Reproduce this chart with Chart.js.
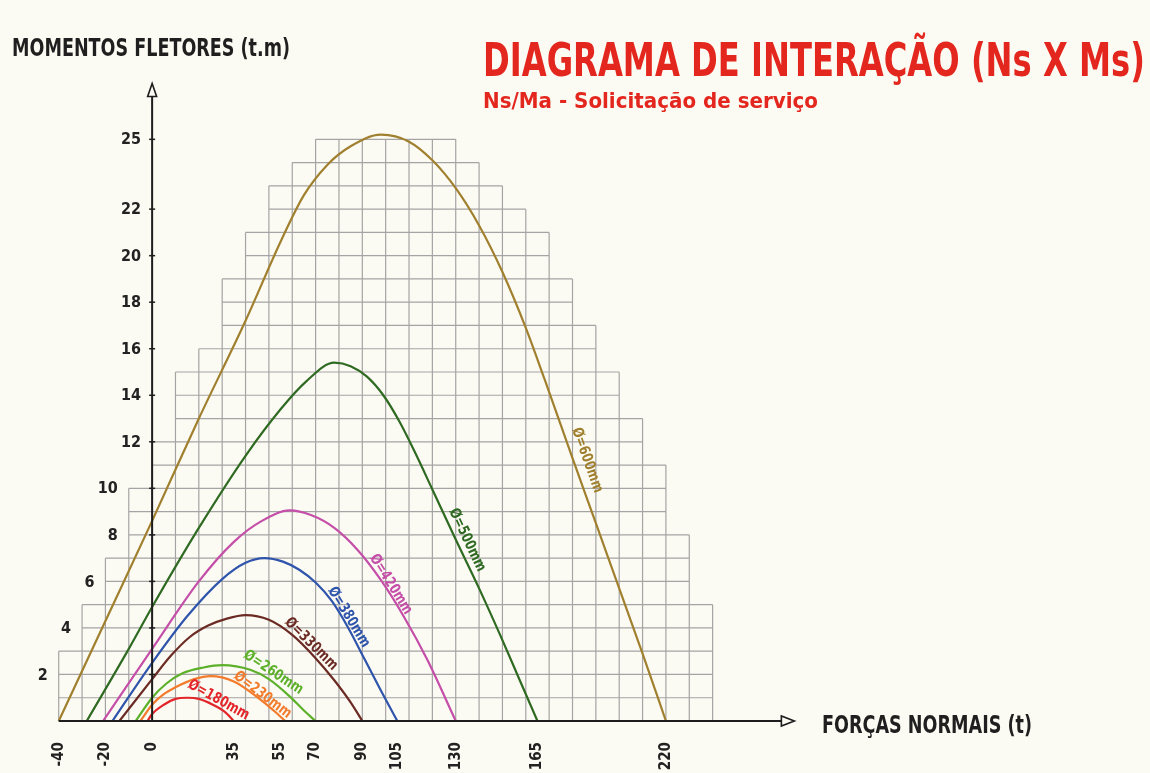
<!DOCTYPE html>
<html>
<head>
<meta charset="utf-8">
<script src="https://cdn.jsdelivr.net/npm/chart.js@4.4.1/dist/chart.umd.min.js"></script>
<style>
  html, body { margin: 0; padding: 0; background: #fcfbf3; }
</style>
</head>
<body>
<canvas id="chart" width="1150" height="773"></canvas>
<script>
const FONT = "'Liberation Sans Narrow', 'DejaVu Sans Condensed', 'Arial Narrow', sans-serif";

// curves: normal force (t) -> bending moment (t.m), one pair of arrays per pile diameter
const names = ["Ø=600mm", "Ø=500mm", "Ø=420mm", "Ø=380mm", "Ø=330mm", "Ø=260mm", "Ø=230mm", "Ø=180mm"];
const colors = ["#a0802f", "#2f6a22", "#c44ea8", "#2e54ab", "#6b2b24", "#5cb02a", "#f27b2c", "#e4262b"];

const x600 = [-40, -20, 0, 20, 40, 55, 65, 75, 85, 98, 110, 120, 130, 140, 150, 160, 168, 180, 190, 200, 210, 220];
const y600 = [0, 4.3, 8.6, 13.0, 17.2, 20.6, 22.6, 23.9, 24.7, 25.2, 24.9, 24.1, 22.9, 21.3, 19.3, 16.9, 14.7, 11.3, 8.5, 5.7, 2.9, 0];

const x500 = [-28, -10, 0, 20, 40, 55, 66, 78, 85, 92, 99, 106, 113, 120, 130, 140, 149, 157, 165];
const y500 = [0, 3.1, 4.9, 8.3, 11.4, 13.4, 14.6, 15.4, 15.25, 14.8, 14.0, 12.85, 11.45, 9.95, 7.8, 5.7, 3.7, 1.85, 0];

const x420 = [-21, 0, 20, 35, 47, 59, 68, 78, 88, 98, 108, 118, 130];
const y420 = [0, 3.1, 6.0, 7.7, 8.6, 9.05, 8.85, 8.3, 7.35, 6.05, 4.45, 2.6, 0];

const x380 = [-17, 0, 15, 30, 40, 48, 56, 63, 70, 77, 84, 91, 98, 105];
const y380 = [0, 2.5, 4.5, 6.1, 6.8, 7.0, 6.85, 6.5, 5.95, 5.15, 4.0, 2.65, 1.3, 0];

const x330 = [-14, 0, 8, 16, 24, 32, 40, 50, 60, 70, 78, 85, 90];
const y330 = [0, 1.8, 2.8, 3.6, 4.1, 4.4, 4.55, 4.35, 3.7, 2.7, 1.75, 0.8, 0];

const x260 = [-7, 0, 6, 13, 22, 30, 42, 50, 59, 65, 70];
const y260 = [0, 1.0, 1.6, 2.05, 2.3, 2.4, 2.2, 1.8, 1.05, 0.45, 0];

const x230 = [-5, 0, 5, 10, 18, 25, 35, 46, 52, 57];
const y230 = [0, 0.7, 1.15, 1.45, 1.8, 1.93, 1.7, 0.95, 0.45, 0];

const x180 = [-2, 0, 5, 10, 15, 20, 26, 31, 35];
const y180 = [0, 0.3, 0.7, 0.95, 1.0, 0.95, 0.7, 0.4, 0];

const curveX = [x600, x500, x420, x380, x330, x260, x230, x180];
const curveY = [y600, y500, y420, y380, y330, y260, y230, y180];

const xTicks = [-40, -20, 0, 35, 55, 70, 90, 105, 130, 165, 220];
const yTicks = [2, 4, 6, 8, 10, 12, 14, 16, 18, 20, 22, 25];

// stepped grid, one entry per 1 t.m row (row 0 = 0..1, row 24 = 24..25), in t
const gridLeft = [-40, -40, -40, -30, -30, -20, -20, -10, -10, -10, 0, 0, 10, 10, 10, 20, 30, 30, 30, 40, 40, 50, 50, 60, 70];
const gridRight = [240, 240, 240, 240, 240, 230, 230, 230, 220, 220, 220, 210, 210, 200, 200, 190, 190, 180, 180, 170, 170, 160, 150, 140, 130];

// where each curve name sits (x in t along the curve, offset in px)
const labelAt = [181, 131, 100, 82, 66, 50, 46, 27];
const labelOff = [13, 10, 6, 6, 7, 8, 5, 7];

function interp(xs, ys, v) {
    for (let i = 1; i < xs.length; i++) {
        if (v <= xs[i]) {
            const t = (v - xs[i - 1]) / (xs[i] - xs[i - 1]);
            return ys[i - 1] + t * (ys[i] - ys[i - 1]);
        }
    }
    return ys[ys.length - 1];
}

function fitText(ctx, text, left, baseline, width, size, color) {
    ctx.save();
    ctx.font = `bold ${size}px ${FONT}`;
    const w = ctx.measureText(text).width;
    ctx.translate(left, baseline);
    ctx.scale(width / w, 1);
    ctx.fillStyle = color;
    ctx.textAlign = "left";
    ctx.textBaseline = "alphabetic";
    ctx.fillText(text, 0, 0);
    ctx.restore();
}

const stairGrid = {
    id: "stairGrid",
    beforeDatasetsDraw(chart) {
        const { ctx, scales: { x, y } } = chart;
        ctx.save();
        ctx.strokeStyle = "#a4a4a4";
        ctx.lineWidth = 1.2;
        ctx.beginPath();
        for (let k = 1; k <= gridLeft.length; k++) {
            const lo = Math.min(gridLeft[k - 1], k < gridLeft.length ? gridLeft[k] : Infinity);
            const hi = Math.max(gridRight[k - 1], k < gridRight.length ? gridRight[k] : -Infinity);
            const py = y.getPixelForValue(k);
            ctx.moveTo(x.getPixelForValue(lo), py);
            ctx.lineTo(x.getPixelForValue(hi), py);
        }
        ctx.moveTo(x.getPixelForValue(gridLeft[0]), y.getPixelForValue(0));
        ctx.lineTo(x.getPixelForValue(gridRight[0]), y.getPixelForValue(0));
        gridLeft.forEach((l, i) => {
            const bot = y.getPixelForValue(i), top = y.getPixelForValue(i + 1);
            for (let v = l; v <= gridRight[i]; v += 10) {
                const px = x.getPixelForValue(v);
                ctx.moveTo(px, bot);
                ctx.lineTo(px, top);
            }
        });
        ctx.stroke();
        ctx.restore();
    }
};

const axesAndText = {
    id: "axesAndText",
    afterDatasetsDraw(chart) {
        const { ctx, scales: { x, y } } = chart;
        const x0 = x.getPixelForValue(0), y0 = y.getPixelForValue(0);
        const xEnd = x.getPixelForValue(275), yEnd = y.getPixelForValue(27.4);
        ctx.save();
        ctx.strokeStyle = "#1d1d1d";
        ctx.lineWidth = 2;
        ctx.beginPath();
        ctx.moveTo(x.getPixelForValue(-40), y0);
        ctx.lineTo(xEnd - 13, y0);
        ctx.moveTo(x0, y0);
        ctx.lineTo(x0, yEnd + 13);
        ctx.stroke();

        // open arrow heads
        ctx.lineWidth = 1.6;
        ctx.fillStyle = "#fcfbf3";
        ctx.beginPath();
        ctx.moveTo(xEnd, y0);
        ctx.lineTo(xEnd - 13, y0 - 5);
        ctx.lineTo(xEnd - 13, y0 + 5);
        ctx.closePath();
        ctx.fill();
        ctx.stroke();
        ctx.beginPath();
        ctx.moveTo(x0, yEnd);
        ctx.lineTo(x0 - 4.5, yEnd + 13);
        ctx.lineTo(x0 + 4.5, yEnd + 13);
        ctx.closePath();
        ctx.fill();
        ctx.stroke();

        // y tick marks and labels, labels sit left of the stepped grid
        ctx.lineWidth = 1.5;
        ctx.fillStyle = "#222";
        ctx.font = `bold 16px ${FONT}`;
        ctx.textAlign = "right";
        ctx.textBaseline = "middle";
        yTicks.forEach(v => {
            const py = y.getPixelForValue(v);
            ctx.beginPath();
            ctx.moveTo(x0 - 3, py);
            ctx.lineTo(x0 + 3, py);
            ctx.stroke();
            const edge = Math.min(gridLeft[v - 1], v < gridLeft.length ? gridLeft[v] : 0, 0);
            ctx.fillText(String(v), x.getPixelForValue(edge) - 11, py + 1);
        });

        // curve names
        curveX.forEach((xs, i) => {
            const ys = curveY[i];
            const v = labelAt[i];
            const ax = x.getPixelForValue(v - 2), ay = y.getPixelForValue(interp(xs, ys, v - 2));
            const bx = x.getPixelForValue(v + 2), by = y.getPixelForValue(interp(xs, ys, v + 2));
            const ang = Math.atan2(by - ay, bx - ax);
            const fx = x.getPixelForValue(v), fy = y.getPixelForValue(interp(xs, ys, v));
            const cx = fx + labelOff[i] * Math.sin(ang), cy = fy - labelOff[i] * Math.cos(ang);
            ctx.save();
            ctx.translate(cx, cy);
            ctx.rotate(ang);
            ctx.font = `bold 15px ${FONT}`;
            const w = ctx.measureText(names[i]).width;
            ctx.scale(68 / w, 1);
            ctx.fillStyle = colors[i];
            ctx.textAlign = "center";
            ctx.textBaseline = "middle";
            ctx.fillText(names[i], 0, 0);
            ctx.restore();
        });

        // titles
        fitText(ctx, "MOMENTOS FLETORES (t.m)", 12, 56, 278, 24, "#1f1f1f");
        fitText(ctx, "FORÇAS NORMAIS (t)", 822, 733, 210, 24, "#1f1f1f");
        fitText(ctx, "DIAGRAMA DE INTERAÇÃO (Ns X Ms)", 483, 76, 662, 47, "#e3261e");
        fitText(ctx, "Ns/Ma - Solicitação de serviço", 483, 108, 335, 22, "#e3261e");
        ctx.restore();
    }
};

const datasets = curveX.map((xs, i) => ({
    label: names[i],
    data: xs.map((v, j) => ({ x: v, y: curveY[i][j] })),
    borderColor: colors[i],
    borderWidth: 2.2,
    pointRadius: 0,
    fill: false,
    cubicInterpolationMode: "monotone"
}));

new Chart(document.getElementById("chart"), {
    type: "line",
    data: { datasets },
    options: {
        responsive: false,
        animation: false,
        devicePixelRatio: 1,
        layout: { padding: { left: 12, right: 17, top: 23, bottom: 0 } },
        plugins: { legend: { display: false }, tooltip: { enabled: false } },
        scales: {
            x: {
                type: "linear",
                min: -60,
                max: 420,
                afterBuildTicks: axis => { axis.ticks = xTicks.map(v => ({ value: v })); },
                afterFit: axis => { axis.height = 52; },
                ticks: {
                    autoSkip: false,
                    minRotation: 90,
                    maxRotation: 90,
                    padding: 21,
                    color: "#222",
                    font: { family: FONT, size: 15, weight: "bold" },
                    callback: v => String(v)
                },
                grid: { display: false, drawTicks: false },
                border: { display: false }
            },
            y: {
                type: "linear",
                min: 0,
                max: 30,
                display: false
            }
        }
    },
    plugins: [stairGrid, axesAndText]
});
</script>
</body>
</html>
